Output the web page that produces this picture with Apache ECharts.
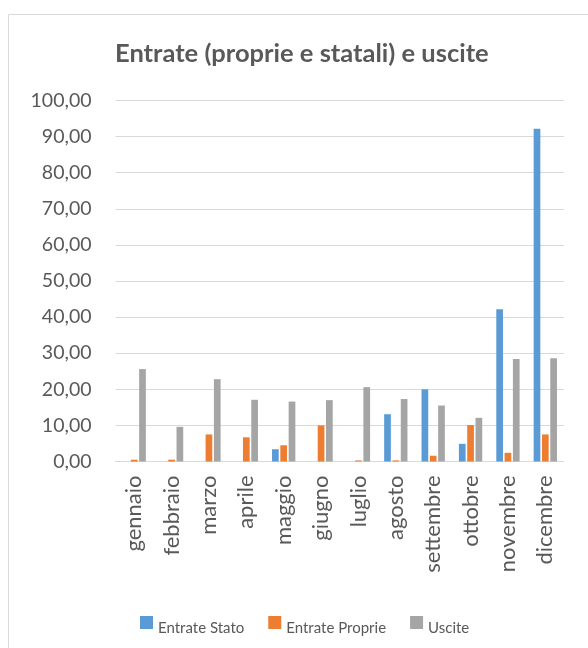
<!DOCTYPE html>
<html>
<head>
<meta charset="utf-8">
<script src="https://cdn.jsdelivr.net/npm/echarts@6/dist/echarts.min.js"></script>
<style>
  html, body { margin: 0; padding: 0; background: #fff; }
  #main { width: 588px; height: 648px; }
</style>
</head>
<body>
<div id="main"></div>
<script>
// dati
var mesi = ['gennaio', 'febbraio', 'marzo', 'aprile', 'maggio', 'giugno',
  'luglio', 'agosto', 'settembre', 'ottobre', 'novembre', 'dicembre'];
var entrateStato = [0, 0, 0, 0, 3.4, 0, 0, 13.1, 20.0, 4.9, 42.2, 92.2];
var entrateProprie = [0.5, 0.5, 7.5, 6.7, 4.5, 10.0, 0.3, 0.3, 1.6, 10.1, 2.4, 7.5];
var uscite = [25.6, 9.6, 22.8, 17.1, 16.6, 17.0, 20.6, 17.3, 15.5, 12.1, 28.4, 28.6];
var tickMin = 0, tickMax = 100, tickStep = 10;

var font = 'Lato';
var textColor = '#595959';

var chart = echarts.init(document.getElementById('main'));

function serie(nome, dati, colore) {
  return {
    name: nome,
    type: 'bar',
    data: dati,
    barWidth: 6.7,
    barGap: '24%',
    itemStyle: { color: colore }
  };
}

var option = {
  backgroundColor: '#fff',
  animation: false,
  title: {
    text: 'Entrate (proprie e statali) e uscite',
    left: 110,
    top: 36,
    textStyle: { fontFamily: font, fontSize: 25.5, fontWeight: 'bold', color: textColor }
  },
  graphic: [{
    type: 'rect',
    shape: { x: 8.5, y: 14.5, width: 640, height: 700 },
    style: { fill: 'none', stroke: '#d9d9d9', lineWidth: 1 },
    silent: true
  }],
  legend: {
    left: 135,
    top: 611,
    itemWidth: 13,
    itemHeight: 13,
    itemGap: 24,
    icon: 'rect',
    formatter: '{t|{name}}',
    textStyle: {
      fontFamily: font, fontSize: 15, color: textColor,
      rich: { t: { fontFamily: font, fontSize: 15, color: textColor, padding: [12, 0, 0, 0] } }
    },
    data: ['Entrate Stato', 'Entrate Proprie', 'Uscite']
  },
  grid: { left: 115.5, right: 24, top: 100.5, bottom: 186.5 },
  xAxis: {
    type: 'category',
    data: mesi,
    axisTick: { show: false },
    axisLine: { lineStyle: { color: '#d9d9d9', width: 1 } },
    axisLabel: {
      rotate: 90,
      margin: 14,
      interval: 0,
      fontFamily: font,
      fontSize: 22,
      color: textColor
    }
  },
  yAxis: {
    type: 'value',
    min: tickMin,
    max: tickMax,
    interval: tickStep,
    axisLine: { show: false },
    axisTick: { show: false },
    splitLine: { lineStyle: { color: '#d9d9d9', width: 1 } },
    axisLabel: {
      margin: 24,
      fontFamily: font,
      fontSize: 19.5,
      color: textColor,
      formatter: function (v) { return v.toFixed(2).replace('.', ','); }
    }
  },
  series: [
    serie('Entrate Stato', entrateStato, '#5b9bd5'),
    serie('Entrate Proprie', entrateProprie, '#ed7d31'),
    serie('Uscite', uscite, '#a5a5a5')
  ]
};

chart.setOption(option);
</script>
</body>
</html>
